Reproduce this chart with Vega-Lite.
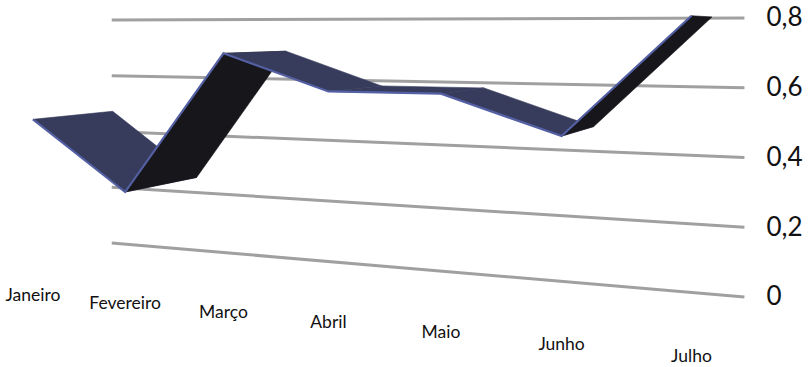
{
  "$schema": "https://vega.github.io/schema/vega-lite/v6.json",
  "width": 745,
  "height": 367,
  "autosize": {"type": "none"},
  "padding": {"left": 0, "top": 0, "right": 66, "bottom": 0},
  "background": "white",
  "config": {"view": {"stroke": null}, "font": "Lato"},
  "datasets": {
    "meses": [
      {"mes": "Janeiro", "i": 0, "valor": 0.5},
      {"mes": "Fevereiro", "i": 1, "valor": 0.3},
      {"mes": "Março", "i": 2, "valor": 0.7},
      {"mes": "Abril", "i": 3, "valor": 0.6},
      {"mes": "Maio", "i": 4, "valor": 0.6},
      {"mes": "Junho", "i": 5, "valor": 0.5},
      {"mes": "Julho", "i": 6, "valor": 0.8}
    ],
    "grade": [{"v": 0}, {"v": 0.2}, {"v": 0.4}, {"v": 0.6}, {"v": 0.8}]
  },
  "layer": [
    {
      "description": "Back wall gridlines, seen in perspective; the wall runs from month -0.35 to 6.215",
      "data": {"name": "grade"},
      "transform": [
        {"calculate": "-2400 + 2539/(1 - 0.03098*(-0.35))", "as": "xEsq"},
        {"calculate": "-2400 + 2539/(1 - 0.03098*6.215)", "as": "xDir"},
        {"calculate": "datum.v + (1 - (datum.xEsq - 112)/633)*(0.1548 - 0.2007*datum.v)", "as": "yEsq"},
        {"calculate": "datum.v + (1 - (datum.xDir - 112)/633)*(0.1548 - 0.2007*datum.v)", "as": "yDir"}
      ],
      "mark": {"type": "rule", "color": "#a0a0a0", "strokeWidth": 3},
      "encoding": {
        "x": {"field": "xEsq", "type": "quantitative", "scale": {"domain": [0, 745], "nice": false, "zero": false}, "axis": null},
        "x2": {"field": "xDir"},
        "y": {
          "field": "yEsq",
          "type": "quantitative",
          "scale": {"domain": [-0.20072, 0.85161], "nice": false, "zero": false},
          "axis": {
            "orient": "right",
            "values": [0, 0.2, 0.4, 0.6, 0.8],
            "labelExpr": "replace(format(datum.value, '.1~f'), '.', ',')",
            "domain": false,
            "ticks": false,
            "grid": false,
            "title": null,
            "labelPadding": 21,
            "labelAlign": "left",
            "labelBaseline": "middle",
            "labelFont": "Lato",
            "labelFontSize": 26,
            "labelColor": "#111111"
          }
        },
        "y2": {"field": "yDir"}
      }
    },
    {
      "description": "Ribbon faces: one quadrilateral per segment (front edge, then back edge)",
      "data": {"name": "meses"},
      "transform": [
        {"window": [{"op": "lead", "field": "valor", "as": "v1"}, {"op": "lead", "field": "i", "as": "i1"}], "sort": [{"field": "i"}]},
        {"filter": "datum.v1 != null"},
        {"calculate": "[0, 1, 2, 3]", "as": "canto"},
        {"flatten": ["canto"]},
        {"calculate": "datum.canto == 0 || datum.canto == 3 ? datum.i : datum.i1", "as": "c"},
        {"calculate": "datum.canto == 0 || datum.canto == 3 ? datum.valor : datum.v1", "as": "v"},
        {"calculate": "-2400 + 2539/(1 - 0.03098*datum.c)", "as": "xw"},
        {"calculate": "datum.v + (1 - (datum.xw - 112)/633)*(0.1548 - 0.2007*datum.v)", "as": "yw"},
        {"calculate": "919 + (datum.xw - 919)*1.136", "as": "xf"},
        {"calculate": "0.7656 + (datum.yw - 0.7656)*1.2", "as": "yf"},
        {"calculate": "datum.canto < 2 ? datum.xf : 919 + (datum.xf - 919)*0.91", "as": "sx"},
        {"calculate": "datum.canto < 2 ? datum.yf : 0.7656 + (datum.yf - 0.7656)*0.91", "as": "sy"},
        {"calculate": "datum.v1 > datum.valor ? 'inferior' : 'superior'", "as": "face"}
      ],
      "mark": {"type": "line", "interpolate": "linear-closed", "strokeWidth": 0.6},
      "encoding": {
        "x": {"field": "sx", "type": "quantitative"},
        "y": {"field": "sy", "type": "quantitative"},
        "order": {"field": "canto", "type": "quantitative"},
        "detail": {"field": "i", "type": "ordinal"},
        "fill": {"field": "face", "type": "nominal", "scale": {"domain": ["superior", "inferior"], "range": ["#373b5c", "#16161b"]}, "legend": null},
        "stroke": {"field": "face", "type": "nominal", "scale": {"domain": ["superior", "inferior"], "range": ["#373b5c", "#16161b"]}, "legend": null}
      }
    },
    {
      "description": "Lighter front edge of the ribbon",
      "data": {"name": "meses"},
      "transform": [
        {"calculate": "-2400 + 2539/(1 - 0.03098*datum.i)", "as": "xw"},
        {"calculate": "datum.valor + (1 - (datum.xw - 112)/633)*(0.1548 - 0.2007*datum.valor)", "as": "yw"},
        {"calculate": "919 + (datum.xw - 919)*1.136", "as": "sx"},
        {"calculate": "0.7656 + (datum.yw - 0.7656)*1.2", "as": "sy"}
      ],
      "mark": {"type": "line", "color": "#5460a4", "strokeWidth": 2.2, "strokeJoin": "miter"},
      "encoding": {
        "x": {"field": "sx", "type": "quantitative"},
        "y": {"field": "sy", "type": "quantitative"},
        "order": {"field": "i", "type": "quantitative"}
      }
    },
    {
      "description": "Month labels along the front edge of the floor",
      "data": {"name": "meses"},
      "transform": [
        {"calculate": "-2400 + 2539/(1 - 0.03098*datum.i)", "as": "xw"},
        {"calculate": "-0.015 + (1 - (datum.xw - 112)/633)*(0.1548 + 0.2007*0.015)", "as": "yw"},
        {"calculate": "919 + (datum.xw - 919)*1.136", "as": "sx"},
        {"calculate": "0.7656 + (datum.yw - 0.7656)*1.21", "as": "sy"}
      ],
      "mark": {"type": "text", "font": "Lato", "fontSize": 17.5, "color": "#111111", "baseline": "middle", "align": "center"},
      "encoding": {
        "x": {"field": "sx", "type": "quantitative"},
        "y": {"field": "sy", "type": "quantitative"},
        "text": {"field": "mes"}
      }
    }
  ]
}
